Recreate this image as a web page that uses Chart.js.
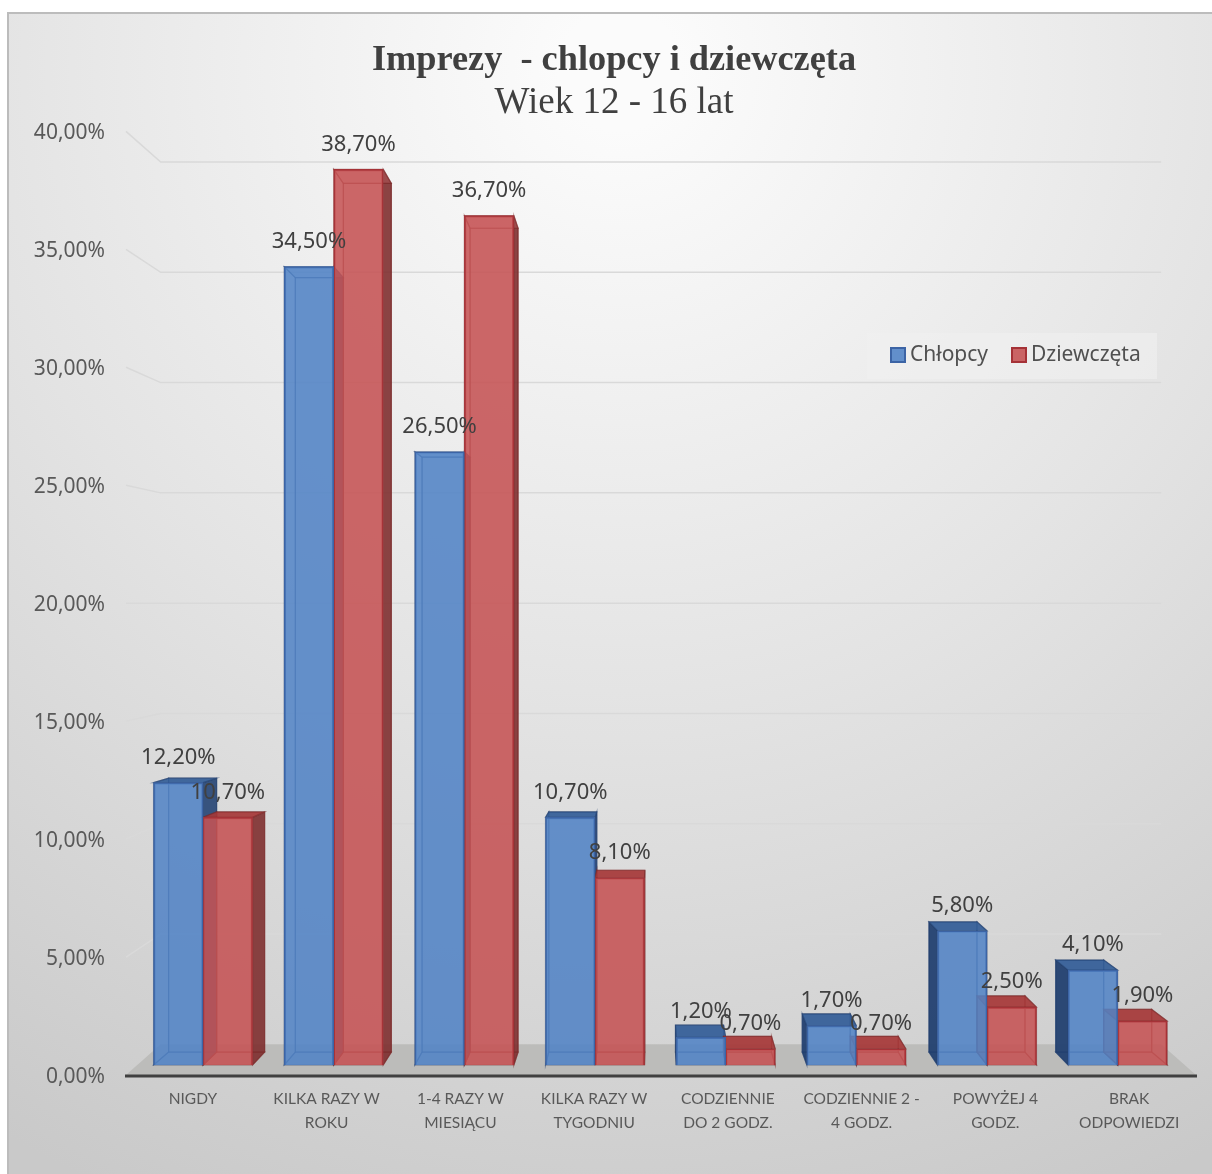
<!DOCTYPE html>
<html>
<head>
<meta charset="utf-8">
<title>Imprezy</title>
<script src="https://cdn.jsdelivr.net/npm/chart.js@4/dist/chart.umd.min.js"></script>
<style>
  html, body { margin: 0; padding: 0; background: #fff; }
  canvas { display: block; }
</style>
</head>
<body>
<canvas id="chart" width="1212" height="1174"></canvas>
<script>
const categories = [
  'NIGDY',
  ['KILKA RAZY W', 'ROKU'],
  ['1-4 RAZY W', 'MIESIĄCU'],
  ['KILKA RAZY W', 'TYGODNIU'],
  ['CODZIENNIE', 'DO 2 GODZ.'],
  ['CODZIENNIE 2 -', '4 GODZ.'],
  ['POWYŻEJ 4', 'GODZ.'],
  ['BRAK', 'ODPOWIEDZI']
];
const chlopcy = [12.2, 34.5, 26.5, 10.7, 1.2, 1.7, 5.8, 4.1];
const dziewczeta = [10.7, 38.7, 36.7, 8.1, 0.7, 0.7, 2.5, 1.9];

const BLUE = '82,132,198';
const RED = '197,84,85';
const UI_FONT = '"Noto Sans", sans-serif';

// vanishing points of the 3d look, far faces are scaled towards them
const BAR_VP = { x: 654, y: 634, s: 0.97 };
const WALL_VP = { x: 660, y: 603, s: 0.935 };

function pct(v) {
  return v.toFixed(2).replace('.', ',') + '%';
}

function proj(x, y, vp) {
  return [vp.x + vp.s * (x - vp.x), vp.y + vp.s * (y - vp.y)];
}

function poly(ctx, pts, fill, stroke) {
  ctx.beginPath();
  pts.forEach((p, i) => (i ? ctx.lineTo(p[0], p[1]) : ctx.moveTo(p[0], p[1])));
  ctx.closePath();
  if (fill) { ctx.fillStyle = fill; ctx.fill(); }
  if (stroke) { ctx.strokeStyle = stroke; ctx.lineWidth = 1.2; ctx.stroke(); }
}

function drawBox(ctx, bar, rgb, dark, mid, leftAlpha) {
  const l = bar.x - bar.width / 2;
  const r = bar.x + bar.width / 2;
  const t = bar.y;
  const b = bar.base;
  const [fl, ft] = proj(l, t, BAR_VP);
  const [fr, fb] = proj(r, b, BAR_VP);
  const edge = `rgba(${dark},.55)`;

  poly(ctx, [[fl, ft], [fr, ft], [fr, fb], [fl, fb]], `rgba(${rgb},.22)`, edge);
  poly(ctx, [[l, b], [r, b], [fr, fb], [fl, fb]], `rgba(${rgb},.25)`, edge);
  // side faces: solid when they stick out of the front, faint when seen through it
  poly(ctx, [[l, t], [fl, ft], [fl, fb], [l, b]], fl < l ? `rgba(${dark},${leftAlpha})` : `rgba(${rgb},.12)`, edge);
  poly(ctx, [[r, t], [fr, ft], [fr, fb], [r, b]], fr > r ? `rgba(${dark},.85)` : `rgba(${rgb},.12)`, edge);
  poly(ctx, [[l, t], [r, t], [fr, ft], [fl, ft]], ft < t ? `rgba(${mid},.9)` : `rgba(${rgb},.3)`, edge);
}

const scenePlugin = {
  id: 'scene',
  beforeDraw(chart) {
    const { ctx, scales } = chart;
    const bg = ctx.createRadialGradient(620, 70, 60, 620, 70, 1230);
    bg.addColorStop(0, '#fbfbfb');
    bg.addColorStop(0.5, '#e3e3e3');
    bg.addColorStop(1, '#c9c9c9');
    ctx.save();
    ctx.fillStyle = '#fff';
    ctx.fillRect(0, 0, chart.width, chart.height);
    ctx.fillStyle = bg;
    ctx.fillRect(8, 13, chart.width - 8, chart.height - 13);
    ctx.strokeStyle = '#bcbcbc';
    ctx.lineWidth = 2;
    ctx.beginPath();
    ctx.moveTo(8, chart.height);
    ctx.lineTo(8, 13);
    ctx.lineTo(chart.width, 13);
    ctx.stroke();

    const left = scales.x.left;
    const right = scales.x.right;
    const floorY = scales.y.getPixelForValue(0);

    // side wall slant + back wall line for each y tick
    ctx.strokeStyle = '#d9d9d9';
    ctx.lineWidth = 1.5;
    scales.y.ticks.forEach((tick) => {
      if (tick.value === 0) return;
      const y = scales.y.getPixelForValue(tick.value);
      const a = proj(left, y, WALL_VP);
      const c = proj(right, y, WALL_VP);
      ctx.beginPath();
      ctx.moveTo(left, y);
      ctx.lineTo(a[0], a[1]);
      ctx.lineTo(c[0], c[1]);
      ctx.stroke();
    });

    const fa = proj(left, floorY, WALL_VP);
    const fb = proj(right, floorY, WALL_VP);
    poly(ctx, [[left, floorY], fa, fb, [right, floorY]], '#bcbcba');
    ctx.strokeStyle = '#404040';
    ctx.lineWidth = 3;
    ctx.beginPath();
    ctx.moveTo(left - 1, floorY + 1);
    ctx.lineTo(right + 1, floorY + 1);
    ctx.stroke();
    ctx.restore();
  },
  beforeDatasetsDraw(chart) {
    const { ctx } = chart;
    ctx.save();
    chart.getDatasetMeta(0).data.forEach((bar) => drawBox(ctx, bar, BLUE, '32,62,110', '50,92,150', 0.92));
    chart.getDatasetMeta(1).data.forEach((bar) => drawBox(ctx, bar, RED, '122,42,42', '165,55,55', 0.45));
    ctx.restore();
  },
  afterDatasetsDraw(chart) {
    const { ctx } = chart;
    ctx.save();

    // value labels
    ctx.font = `22px ${UI_FONT}`;
    ctx.fillStyle = '#404040';
    ctx.textAlign = 'center';
    ctx.textBaseline = 'middle';
    chart.data.datasets.forEach((ds, d) => {
      chart.getDatasetMeta(d).data.forEach((bar, i) => {
        ctx.fillText(pct(ds.data[i].y), bar.x, bar.y - 25);
      });
    });

    // legend
    ctx.fillStyle = 'rgba(240,240,240,.6)';
    ctx.fillRect(867, 333, 290, 46);
    ctx.textAlign = 'left';
    ctx.font = `21px ${UI_FONT}`;
    [[890, BLUE, '60,100,165', 0], [1011, RED, '165,50,55', 1]].forEach(([x, rgb, border, d]) => {
      ctx.fillStyle = `rgba(${rgb},.9)`;
      ctx.strokeStyle = `rgb(${border})`;
      ctx.lineWidth = 2;
      ctx.fillRect(x + 1, 348, 14, 14);
      ctx.strokeRect(x + 1, 348, 14, 14);
      ctx.fillStyle = '#505050';
      ctx.fillText(chart.data.datasets[d].label, x + 20, 355);
    });
    ctx.restore();
  }
};

new Chart(document.getElementById('chart'), {
  type: 'bar',
  plugins: [scenePlugin],
  data: {
    labels: categories,
    datasets: [
      {
        label: 'Chłopcy',
        data: chlopcy.map((v, i) => ({ x: i, y: v })),
        backgroundColor: `rgba(${BLUE},.85)`,
        borderColor: 'rgb(60,100,165)',
        borderWidth: 1.5,
        xAxisID: 'xBars',
        yAxisID: 'yBars',
        barThickness: 49.5
      },
      {
        label: 'Dziewczęta',
        data: dziewczeta.map((v, i) => ({ x: i, y: v })),
        backgroundColor: `rgba(${RED},.85)`,
        borderColor: 'rgb(165,50,55)',
        borderWidth: 1.5,
        xAxisID: 'xBars',
        yAxisID: 'yBars',
        barThickness: 49.5
      }
    ]
  },
  options: {
    responsive: false,
    animation: false,
    layout: { autoPadding: false, padding: { left: 32, right: 16, top: 0, bottom: 0 } },
    plugins: {
      legend: { display: false },
      tooltip: { enabled: false },
      title: {
        display: true,
        text: 'Imprezy  - chlopcy i dziewczęta',
        color: '#404040',
        font: { family: '"Liberation Serif", serif', size: 36.3, weight: 'bold', lineHeight: 1.1 },
        padding: { top: 41, bottom: 0 }
      },
      subtitle: {
        display: true,
        text: 'Wiek 12 - 16 lat',
        color: '#404040',
        font: { family: '"Liberation Serif", serif', size: 37, weight: 'normal', lineHeight: 1.1 },
        padding: { top: 1.6, bottom: 8.1 }
      }
    },
    scales: {
      x: {
        type: 'category',
        position: 'bottom',
        offset: true,
        grid: { display: false },
        border: { display: false },
        afterFit(scale) { scale.height = 99; },
        ticks: {
          color: '#595959',
          font: { family: '"Lato", sans-serif', size: 15.5, lineHeight: 1.55 },
          padding: 4,
          autoSkip: false,
          maxRotation: 0,
          minRotation: 0
        }
      },
      y: {
        type: 'linear',
        position: 'left',
        min: 0,
        max: 40,
        grid: { display: false },
        border: { display: false },
        afterFit(scale) { scale.width = 94; },
        ticks: {
          stepSize: 5,
          color: '#595959',
          font: { family: UI_FONT, size: 21 },
          padding: 13,
          labelOffset: 2,
          callback: (v) => pct(v)
        }
      },
      // hidden scales for the bars: the front plane sits in front of the axis labels
      xBars: { type: 'linear', display: false, offset: false, min: -0.59, max: 7.6 },
      yBars: { type: 'linear', display: false, position: 'left', min: -0.432, max: 40.346 }
    }
  }
});
</script>
</body>
</html>
